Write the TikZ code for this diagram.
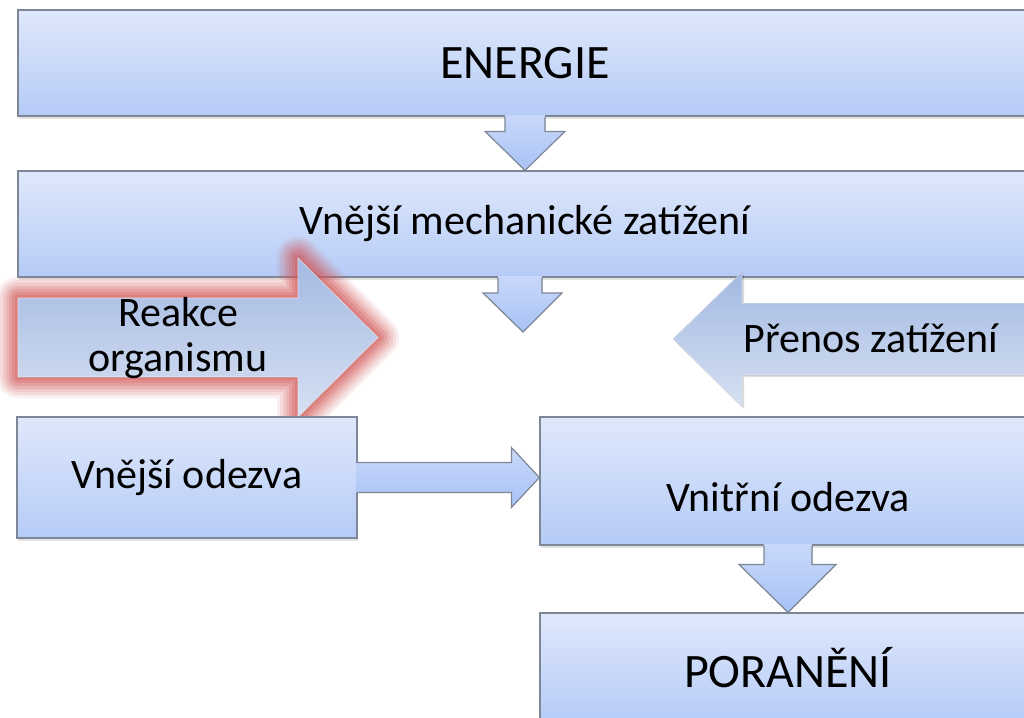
\documentclass[tikz,border=0pt]{standalone}
\usepackage{fontspec}
\setmainfont{Carlito}
\usetikzlibrary{calc,shadows}
\definecolor{boxtop}{RGB}{223,232,251}
\definecolor{boxbot}{RGB}{181,203,247}
\definecolor{edgec}{RGB}{125,135,150}
\definecolor{dtop}{RGB}{200,216,250}
\definecolor{dbot}{RGB}{168,194,245}
\definecolor{atop}{RGB}{163,185,226}
\definecolor{abot}{RGB}{214,224,242}
\definecolor{glowc}{RGB}{210,90,90}
\tikzset{
  box/.style={draw=edgec, line width=1.2pt, top color=boxtop, bottom color=boxbot, inner sep=0pt,
    drop shadow={shadow xshift=1pt, shadow yshift=-2.5pt, opacity=0.22}},
  bigtext/.style={font=\fontsize{48}{56}\selectfont},
  midtext/.style={font=\fontsize{42}{45}\selectfont, align=center, inner sep=0pt},
  downfill/.style={top color=dtop, bottom color=dbot},
  arrowedge/.style={draw=edgec, line width=1.2pt, line join=miter},
  sidefill/.style={top color=atop, bottom color=abot},
}
\begin{document}
\begin{tikzpicture}[x=1pt, y=-1pt]
\useasboundingbox (0,0) rectangle (1024,717);
\clip (0,0) rectangle (1024,717);

% top boxes
\node[box, bigtext, minimum width=1014pt, minimum height=106pt] (energie) at (525,63) {ENERGIE};
\node[box, midtext, minimum width=1014pt, minimum height=106pt] (mech) at (525,224) {Vnější mechanické zatížení};

% arrow ENERGIE -> mech
\fill[downfill] ($(energie.south)+(-20,-1.5)$) -- ($(mech.north)+(-20,-39)$) -- ($(mech.north)+(-40,-39)$) -- (mech.north)
  -- ($(mech.north)+(40,-39)$) -- ($(mech.north)+(20,-39)$) -- ($(energie.south)+(20,-1.5)$) -- cycle;
\draw[arrowedge] ($(energie.south)+(-20,0.6)$) -- ($(mech.north)+(-20,-39)$) -- ($(mech.north)+(-40,-39)$) -- (mech.north)
  -- ($(mech.north)+(40,-39)$) -- ($(mech.north)+(20,-39)$) -- ($(energie.south)+(20,0.6)$);

% arrow from mech down (free end)
\coordinate (tip2) at (523,332);
\fill[downfill] ($(mech.south)+(-27,-1.5)$) -- ($(tip2)+(-25,-39)$) -- ($(tip2)+(-40,-39)$) -- (tip2)
  -- ($(tip2)+(39,-39)$) -- ($(tip2)+(19,-39)$) -- ($(mech.south)+(17,-1.5)$) -- cycle;
\draw[arrowedge] ($(mech.south)+(-27,0.6)$) -- ($(tip2)+(-25,-39)$) -- ($(tip2)+(-40,-39)$) -- (tip2)
  -- ($(tip2)+(39,-39)$) -- ($(tip2)+(19,-39)$) -- ($(mech.south)+(17,0.6)$);

% Reakce organismu arrow with red glow
\foreach \w/\o in {42/0.1,36/0.12,30/0.15,24/0.18,18/0.22,12/0.26,6/0.3}{
  \draw[glowc, line width=\w pt, draw opacity=\o, line join=round]
    (18,298) -- (298,298) -- (298,258) -- (378,337.5) -- (298,417) -- (298,377) -- (18,377) -- cycle;
}
\fill[sidefill] (18,298) -- (298,298) -- (298,258) -- (378,337.5) -- (298,417) -- (298,377) -- (18,377) -- cycle;
\draw[white, line width=0.8pt, draw opacity=0.6] (18,298) -- (298,298) -- (298,258) -- (378,337.5) -- (298,417) -- (298,377) -- (18,377) -- cycle;
\node[midtext] (reakce) at (178,338) {Reakce\\organismu};

% Prenos zatizeni arrow
\fill[black, opacity=0.12] (1050,305) -- (744,305) -- (744,274) -- (675,341) -- (744,409) -- (744,377) -- (1050,377) -- cycle;
\fill[sidefill] (1050,303) -- (742,303) -- (742,272) -- (673,339) -- (742,407) -- (742,375) -- (1050,375) -- cycle;
\draw[white, line width=0.8pt, draw opacity=0.5] (1050,303) -- (742,303) -- (742,272) -- (673,339) -- (742,407) -- (742,375) -- (1050,375);
\node[midtext] (prenos) at (871,338) {Přenos zatížení};

% lower boxes
\node[box, midtext, minimum width=340pt, minimum height=121pt] (vnejsi) at (187,477.5) {Vnější odezva};
\node[box, minimum width=496pt, minimum height=128pt] (vnitrni) at (788,481) {};
\node[midtext] (vnitrnitext) at (788,497) {Vnitřní odezva};

% arrow vnejsi -> vnitrni
\coordinate (tip3) at (vnejsi.east -| vnitrni.west);
\fill[downfill] ($(vnejsi.east)+(-1.5,-15)$) -- ($(tip3)+(-28,-15)$) -- ($(tip3)+(-28,-30)$) -- (tip3)
  -- ($(tip3)+(-28,30)$) -- ($(tip3)+(-28,15)$) -- ($(vnejsi.east)+(-1.5,15)$) -- cycle;
\draw[arrowedge] ($(vnejsi.east)+(0.6,-15)$) -- ($(tip3)+(-28,-15)$) -- ($(tip3)+(-28,-30)$) -- (tip3)
  -- ($(tip3)+(-28,30)$) -- ($(tip3)+(-28,15)$) -- ($(vnejsi.east)+(0.6,15)$);

% bottom box
\node[box, bigtext, minimum width=496pt, minimum height=110pt] (poraneni) at (788,668) {PORANĚNÍ};

% arrow vnitrni -> poraneni
\fill[downfill] ($(vnitrni.south)+(-24,-1.5)$) -- ($(poraneni.north)+(-24,-48)$) -- ($(poraneni.north)+(-49,-48)$) -- (poraneni.north)
  -- ($(poraneni.north)+(48,-48)$) -- ($(poraneni.north)+(24,-48)$) -- ($(vnitrni.south)+(24,-1.5)$) -- cycle;
\draw[arrowedge] ($(vnitrni.south)+(-24,0.6)$) -- ($(poraneni.north)+(-24,-48)$) -- ($(poraneni.north)+(-49,-48)$) -- (poraneni.north)
  -- ($(poraneni.north)+(48,-48)$) -- ($(poraneni.north)+(24,-48)$) -- ($(vnitrni.south)+(24,0.6)$);
\end{tikzpicture}
\end{document}
